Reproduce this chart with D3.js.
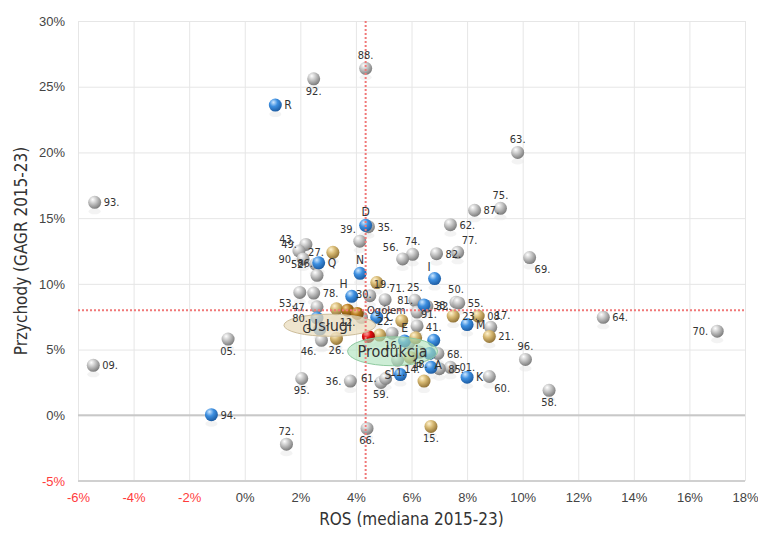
<!DOCTYPE html>
<html>
<head>
<meta charset="utf-8">
<script src="https://cdn.jsdelivr.net/npm/d3@7"></script>
<style>
  body { margin: 0; background: #fff; }
  svg { font-family: "DejaVu Sans Condensed", "DejaVu Sans", sans-serif; }
  .grid line { stroke: #e6e6e6; stroke-width: 1; }
  .grid path { stroke: none; }
</style>
</head>
<body>
<div id="chart"></div>
<script>
// axis ticks
var xTicks = [-6, -4, -2, 0, 2, 4, 6, 8, 10, 12, 14, 16, 18];
var yTicks = [-5, 0, 5, 10, 15, 20, 25, 30];

// reference lines (medians)
var medianRos = 4.35;
var medianGagr = 8.0;

// points: label, ROS %, GAGR %, kind (g = grey, b = blue, y = gold, o = brown, r = red)
var labels = ["88.", "92.", "63.", "93.", "75.", "87.", "62.", "35.", "39.", "49.",
  "43.", "90.", "52.", "86.", "74.", "56.", "82.", "77.", "69.", "19.",
  "71.", "25.", "50.", "55.", "81.", "32.", "17.", "96.", "01.", "85.",
  "60.", "58.", "64.", "70.", "05.", "09.", "72.", "66.", "95.", "36.",
  "59.", "61.", "46.", "53.", "78.", "47.", "13.", "91.", "11.", "16.",
  "18.", "68.", "28.",
  "R", "D", "Q", "N", "I", "H", "38.", "80.", "C", "G",
  "E", "41.", "A", "M", "P", "K", "S", "94.",
  "27.", "30.", "23.", "08.", "21.", "26.", "14.", "15.", "20.", "22.",
  "31.", "24.", "33.",
  "12.", "10.",
  "Ogółem"];
var ros = [4.35, 2.48, 9.82, -5.4, 9.2, 8.27, 7.4, 4.45, 4.14, 2.2,
  1.95, 2.1, 2.55, 2.6, 6.04, 5.68, 6.9, 7.66, 10.25, 4.5,
  5.05, 6.12, 7.6, 7.7, 6.2, 6.55, 8.85, 10.1, 7.4, 7.0,
  8.8, 10.95, 12.9, 17.0, -0.6, -5.45, 1.5, 4.4, 2.05, 3.8,
  4.9, 5.07, 2.76, 1.98, 2.48, 2.6, 4.2, 6.2, 5.5, 5.3,
  6.3, 6.95, 5.9,
  1.1, 4.35, 2.66, 4.15, 6.83, 3.85, 6.45, 2.6, 4.75, 2.7,
  5.75, 6.8, 6.65, 8.0, 6.7, 8.0, 5.6, -1.2,
  3.17, 4.75, 7.5, 8.4, 8.8, 3.3, 6.45, 6.7, 3.3, 5.65,
  6.15, 5.95, 4.85,
  3.7, 4.05,
  4.45];
var gagr = [26.4, 25.6, 20.0, 16.2, 15.75, 15.6, 14.5, 14.35, 13.25, 13.0,
  12.5, 11.9, 11.5, 10.65, 12.25, 11.9, 12.3, 12.4, 12.0, 9.1,
  8.8, 8.75, 8.6, 8.55, 7.85, 8.3, 6.7, 4.25, 3.65, 3.55,
  2.95, 1.9, 7.45, 6.4, 5.8, 3.8, -2.2, -1.0, 2.8, 2.6,
  2.5, 2.8, 5.7, 9.35, 9.3, 8.25, 7.45, 6.8, 4.2, 6.25,
  4.8, 4.7, 5.5,
  23.6, 14.45, 11.6, 10.8, 10.4, 9.05, 8.4, 7.4, 7.45, 6.55,
  5.65, 5.7, 4.7, 6.9, 3.65, 2.9, 3.1, 0.05,
  12.4, 10.1, 7.55, 7.55, 6.0, 5.85, 2.6, -0.85, 8.1, 7.2,
  5.9, 4.4, 6.1,
  8.0, 7.75,
  6.0];
var kinds = ["g", "g", "g", "g", "g", "g", "g", "g", "g", "g",
  "g", "g", "g", "g", "g", "g", "g", "g", "g", "g",
  "g", "g", "g", "g", "g", "g", "g", "g", "g", "g",
  "g", "g", "g", "g", "g", "g", "g", "g", "g", "g",
  "g", "g", "g", "g", "g", "g", "g", "g", "g", "g",
  "g", "g", "g",
  "b", "b", "b", "b", "b", "b", "b", "b", "b", "b",
  "b", "b", "b", "b", "b", "b", "b", "b",
  "y", "y", "y", "y", "y", "y", "y", "y", "y", "y",
  "y", "y", "y",
  "o", "o",
  "r"];

// where each label sits relative to its point (labels hidden in the crowd are left out)
var labelSide = {
  "88.": "t", "92.": "b", "63.": "t", "93.": "r", "75.": "t", "87.": "r", "62.": "r",
  "35.": "r", "39.": "tl", "49.": "l", "43.": "tl", "90.": "l", "52.": "l", "86.": "tl",
  "74.": "t", "56.": "tl", "82.": "r", "77.": "tr", "69.": "br", "19.": "tr", "71.": "tr",
  "25.": "t", "50.": "t", "55.": "r", "81.": "tl", "32.": "r", "17.": "tr", "96.": "t",
  "01.": "r", "85.": "r", "60.": "br", "58.": "b", "64.": "r", "70.": "l", "05.": "b",
  "09.": "r", "72.": "t", "66.": "b", "95.": "b", "36.": "l", "59.": "b", "61.": "l",
  "46.": "bl", "53.": "bl", "78.": "r", "47.": "l", "91.": "tr", "11.": "b",
  "16.": "b", "18.": "b", "68.": "r",
  "R": "r", "D": "t", "Q": "r", "N": "t", "I": "tl", "H": "tl", "38.": "r", "80.": "l",
  "C": "r", "G": "l", "E": "t", "41.": "t", "A": "br", "M": "r", "P": "l", "K": "r",
  "S": "l", "94.": "r",
  "27.": "l", "30.": "bl", "23.": "r", "08.": "r", "21.": "r", "26.": "b", "14.": "tl",
  "15.": "b", "22.": "l", "12.": "b", "Ogółem": "og"
};

// sector summaries (centre and spread, %)
var groupNames = ["Usługi", "Produkcja"];
var groupRos = [3.06, 5.32];
var groupGagr = [6.85, 4.87];
var groupRosSpread = [1.65, 1.62];
var groupGagrSpread = [0.84, 1.1];

var W = 758, H = 533;
var margin = {top: 21, right: 13, bottom: 52, left: 78};
var width = W - margin.left - margin.right,
    height = H - margin.top - margin.bottom;

var svg = d3.select("#chart").append("svg")
    .attr("width", W)
    .attr("height", H);

var defs = svg.append("defs");
var palette = {
  g: ["#ffffff", "#c4c4c4", "#7a7a7a"],
  b: ["#cfe8ff", "#3d8fe0", "#1b5aa0"],
  y: ["#fff3d0", "#d6b872", "#8f7136"],
  o: ["#f5d49a", "#b87a1e", "#6b4208"],
  r: ["#ffb0b0", "#e01010", "#8a0000"]
};
Object.keys(palette).forEach(function(k) {
  var gr = defs.append("radialGradient")
      .attr("id", "ball-" + k)
      .attr("cx", "38%").attr("cy", "32%").attr("r", "70%")
      .attr("fx", "35%").attr("fy", "28%");
  gr.append("stop").attr("offset", "0%").attr("stop-color", palette[k][0]);
  gr.append("stop").attr("offset", "45%").attr("stop-color", palette[k][1]);
  gr.append("stop").attr("offset", "100%").attr("stop-color", palette[k][2]);
});

var g = svg.append("g")
    .attr("transform", "translate(" + margin.left + "," + margin.top + ")");

var x = d3.scaleLinear().domain([-6, 18]).range([0, width]);
var y = d3.scaleLinear().domain([-5, 30]).range([height, 0]);

// grid
g.append("g")
    .attr("class", "grid")
    .attr("transform", "translate(0," + height + ")")
    .call(d3.axisBottom(x).tickValues(xTicks).tickSize(-height).tickFormat(""));
g.append("g")
    .attr("class", "grid")
    .call(d3.axisLeft(y).tickValues(yTicks).tickSize(-width).tickFormat(""));

// zero line and bottom line
g.append("line")
    .attr("x1", 0).attr("x2", width)
    .attr("y1", y(0)).attr("y2", y(0))
    .style("stroke", "#c8c8c8").style("stroke-width", 2);
g.append("line")
    .attr("x1", 0).attr("x2", width)
    .attr("y1", y(-5)).attr("y2", y(-5))
    .style("stroke", "#d0d0d0").style("stroke-width", 2);

// tick labels
var xAxis = g.append("g")
    .attr("transform", "translate(0," + height + ")")
    .call(d3.axisBottom(x).tickValues(xTicks).tickSize(0).tickPadding(12)
        .tickFormat(function(d) { return d + "%"; }));
xAxis.select(".domain").remove();
xAxis.selectAll("text")
    .style("font-size", "13px")
    .style("fill", function(d) { return d < 0 ? "#ff3b3b" : "#444"; });

var yAxis = g.append("g")
    .call(d3.axisLeft(y).tickValues(yTicks).tickSize(0).tickPadding(13)
        .tickFormat(function(d) { return d + "%"; }));
yAxis.select(".domain").remove();
yAxis.selectAll("text")
    .style("font-size", "13px")
    .style("fill", function(d) { return d < 0 ? "#ff3b3b" : "#444"; });

// axis titles
svg.append("text")
    .attr("x", margin.left + width / 2)
    .attr("y", H - 8)
    .style("text-anchor", "middle")
    .style("font-size", "17px")
    .style("fill", "#333")
    .text("ROS (mediana 2015-23)");
svg.append("text")
    .attr("transform", "rotate(-90)")
    .attr("x", -(margin.top + height / 2))
    .attr("y", 27)
    .style("text-anchor", "middle")
    .style("font-size", "17px")
    .style("fill", "#333")
    .text("Przychody (GAGR 2015-23)");

var pts = labels.map(function(l, i) {
  return {label: l, ros: ros[i], gagr: gagr[i], kind: kinds[i]};
});

// soft shadows
g.selectAll(".shadow")
    .data(pts)
    .enter().append("ellipse")
    .attr("cx", function(d) { return x(d.ros); })
    .attr("cy", function(d) { return y(d.gagr) + 9; })
    .attr("rx", 6).attr("ry", 3)
    .style("fill", "#e8e8e8")
    .style("opacity", 0.5);

// balls
g.selectAll(".ball")
    .data(pts)
    .enter().append("circle")
    .attr("class", "ball")
    .attr("cx", function(d) { return x(d.ros); })
    .attr("cy", function(d) { return y(d.gagr); })
    .attr("r", 6.5)
    .style("fill", function(d) { return "url(#ball-" + d.kind + ")"; });

// sector ellipses
var groupFill = ["rgba(233,220,190,0.75)", "rgba(170,225,185,0.6)"];
var groupStroke = ["#cdbd9a", "#8fcaa0"];
groupNames.forEach(function(name, i) {
  g.append("ellipse")
      .attr("cx", x(groupRos[i]))
      .attr("cy", y(groupGagr[i]))
      .attr("rx", x(groupRos[i] + groupRosSpread[i]) - x(groupRos[i]))
      .attr("ry", y(groupGagr[i]) - y(groupGagr[i] + groupGagrSpread[i]))
      .style("fill", groupFill[i])
      .style("stroke", groupStroke[i])
      .style("stroke-width", 1);
});

// median lines
g.append("line")
    .attr("x1", x(medianRos)).attr("x2", x(medianRos))
    .attr("y1", 0).attr("y2", height)
    .style("stroke", "#f07878").style("stroke-width", 2)
    .style("stroke-dasharray", "2,2");
g.append("line")
    .attr("x1", 0).attr("x2", width)
    .attr("y1", y(medianGagr)).attr("y2", y(medianGagr))
    .style("stroke", "#f07878").style("stroke-width", 2)
    .style("stroke-dasharray", "2,2");

// point labels
var offsets = {
  r: [9, 4, "start"], l: [-9, 4, "end"], t: [0, -9, "middle"], b: [0, 16, "middle"],
  tl: [-4, -8, "end"], tr: [4, -8, "start"], bl: [-5, 15, "end"], br: [5, 15, "start"],
  og: [18, -22, "middle"]
};
var labelled = pts.filter(function(d) { return labelSide[d.label]; });
g.selectAll(".plabel")
    .data(labelled)
    .enter().append("text")
    .attr("x", function(d) { return x(d.ros) + offsets[labelSide[d.label]][0]; })
    .attr("y", function(d) { return y(d.gagr) + offsets[labelSide[d.label]][1]; })
    .style("text-anchor", function(d) { return offsets[labelSide[d.label]][2]; })
    .style("font-size", function(d) { return d.label.length == 1 ? "12px" : "11px"; })
    .style("fill", "#333")
    .text(function(d) { return d.label; });

// sector names
groupNames.forEach(function(name, i) {
  g.append("text")
      .attr("x", x(groupRos[i]))
      .attr("y", y(groupGagr[i]) + 6)
      .style("text-anchor", "middle")
      .style("font-size", "16px")
      .style("fill", "#333")
      .text(name);
});
</script>
</body>
</html>
